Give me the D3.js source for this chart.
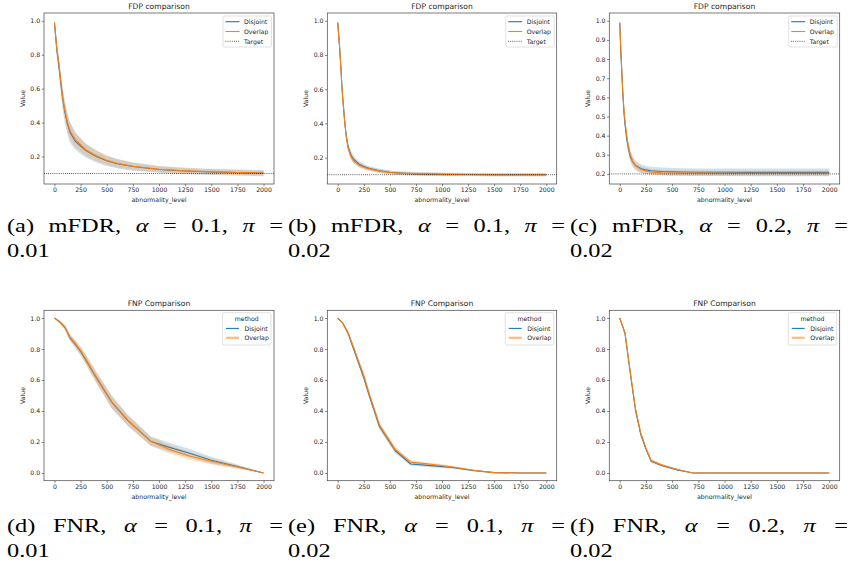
<!DOCTYPE html>
<html>
<head>
<meta charset="utf-8">
<script src="https://cdn.jsdelivr.net/npm/d3@7"></script>
<style>
    body { margin: 0; background: #fff; }
    svg { display: block; }
</style>
</head>
<body>
<div id="graphic"></div>
<script>
// Dati
var xsTop = [0, 10, 20, 30, 40, 50, 65, 80, 100, 125, 150, 200, 250, 300, 400, 500, 600, 750, 1000, 1250, 1500, 1750, 2000];
var xsBottom = [0, 50, 100, 150, 200, 250, 300, 400, 550, 700, 920, 1100, 1300, 1500, 1750, 2000];

var fdpA_disjoint = [0.99, 0.92, 0.85, 0.79, 0.75, 0.69, 0.61, 0.535, 0.46, 0.39, 0.34, 0.29, 0.262, 0.235, 0.2, 0.175, 0.158, 0.141, 0.124, 0.115, 0.109, 0.105, 0.102];
var fdpA_overlap = [0.99, 0.92, 0.85, 0.80, 0.76, 0.70, 0.62, 0.545, 0.47, 0.40, 0.35, 0.30, 0.27, 0.24, 0.205, 0.178, 0.16, 0.143, 0.125, 0.116, 0.11, 0.106, 0.103];
var bandA_disjoint = [0.01, 0.03, 0.04, 0.045, 0.05, 0.055, 0.06, 0.065, 0.065, 0.065, 0.06, 0.05, 0.045, 0.04, 0.035, 0.03, 0.027, 0.024, 0.02, 0.019, 0.018, 0.018, 0.018];
var bandA_overlap = [0.01, 0.03, 0.035, 0.04, 0.04, 0.045, 0.05, 0.05, 0.05, 0.05, 0.05, 0.045, 0.04, 0.037, 0.032, 0.028, 0.025, 0.022, 0.018, 0.017, 0.016, 0.015, 0.015];

var fdpB_disjoint = [0.99, 0.91, 0.83, 0.73, 0.62, 0.535, 0.425, 0.335, 0.262, 0.218, 0.192, 0.164, 0.148, 0.137, 0.123, 0.114, 0.109, 0.105, 0.102, 0.101, 0.100, 0.100, 0.100];
var fdpB_overlap = [0.99, 0.91, 0.83, 0.73, 0.615, 0.53, 0.42, 0.33, 0.255, 0.208, 0.183, 0.157, 0.143, 0.134, 0.121, 0.113, 0.109, 0.105, 0.102, 0.101, 0.100, 0.100, 0.100];
var bandB_disjoint = [0.01, 0.02, 0.025, 0.025, 0.025, 0.025, 0.025, 0.025, 0.025, 0.025, 0.022, 0.018, 0.015, 0.013, 0.012, 0.011, 0.01, 0.01, 0.009, 0.009, 0.009, 0.009, 0.009];
var bandB_overlap = [0.01, 0.02, 0.025, 0.025, 0.025, 0.025, 0.025, 0.025, 0.022, 0.02, 0.018, 0.015, 0.013, 0.012, 0.011, 0.01, 0.01, 0.009, 0.009, 0.009, 0.009, 0.009, 0.009];

var fdpC_disjoint = [0.99, 0.84, 0.72, 0.61, 0.52, 0.46, 0.39, 0.34, 0.29, 0.262, 0.244, 0.228, 0.221, 0.217, 0.213, 0.211, 0.21, 0.209, 0.209, 0.208, 0.208, 0.208, 0.208];
var fdpC_overlap = [0.99, 0.85, 0.73, 0.62, 0.535, 0.475, 0.405, 0.35, 0.3, 0.265, 0.243, 0.224, 0.215, 0.21, 0.206, 0.205, 0.204, 0.204, 0.203, 0.203, 0.203, 0.203, 0.203];
var bandC_disjoint = [0.01, 0.03, 0.03, 0.03, 0.03, 0.03, 0.03, 0.03, 0.028, 0.026, 0.025, 0.022, 0.02, 0.02, 0.02, 0.02, 0.02, 0.02, 0.02, 0.02, 0.02, 0.02, 0.02];
var bandC_overlap = [0.01, 0.03, 0.03, 0.03, 0.03, 0.03, 0.028, 0.026, 0.024, 0.022, 0.02, 0.018, 0.016, 0.015, 0.014, 0.014, 0.014, 0.014, 0.014, 0.014, 0.014, 0.014, 0.014];

var fnpD_disjoint = [1.0, 0.975, 0.94, 0.87, 0.83, 0.785, 0.73, 0.615, 0.455, 0.34, 0.205, 0.165, 0.125, 0.082, 0.042, 0.0];
var fnpD_overlap = [1.0, 0.975, 0.94, 0.875, 0.835, 0.79, 0.735, 0.62, 0.458, 0.342, 0.205, 0.152, 0.108, 0.075, 0.038, 0.0];
var bandD_disjoint = [0, 0.01, 0.015, 0.02, 0.025, 0.025, 0.03, 0.035, 0.04, 0.035, 0.03, 0.03, 0.028, 0.022, 0.012, 0];
var bandD_overlap = [0, 0.01, 0.015, 0.02, 0.025, 0.028, 0.032, 0.036, 0.04, 0.035, 0.03, 0.028, 0.025, 0.02, 0.012, 0];

var fnpE_disjoint = [1.0, 0.965, 0.9, 0.805, 0.71, 0.615, 0.505, 0.3, 0.145, 0.058, 0.046, 0.035, 0.016, 0.002, 0, 0];
var fnpE_overlap = [1.0, 0.965, 0.905, 0.815, 0.72, 0.63, 0.515, 0.31, 0.152, 0.07, 0.055, 0.038, 0.017, 0.002, 0, 0];
var bandE_disjoint = [0, 0.008, 0.012, 0.015, 0.018, 0.02, 0.02, 0.02, 0.018, 0.012, 0.01, 0.008, 0.006, 0.002, 0, 0];
var bandE_overlap = [0, 0.008, 0.012, 0.015, 0.018, 0.02, 0.02, 0.02, 0.018, 0.012, 0.01, 0.008, 0.006, 0.002, 0, 0];

var fnpF_disjoint = [1.0, 0.9, 0.645, 0.405, 0.25, 0.155, 0.075, 0.048, 0.02, 0.0, 0, 0, 0, 0, 0, 0];
var fnpF_overlap = [1.0, 0.905, 0.655, 0.415, 0.258, 0.16, 0.08, 0.052, 0.022, 0.0, 0, 0, 0, 0, 0, 0];
var bandF_disjoint = [0, 0.01, 0.015, 0.015, 0.015, 0.012, 0.01, 0.008, 0.005, 0, 0, 0, 0, 0, 0, 0];
var bandF_overlap = [0, 0.01, 0.015, 0.015, 0.015, 0.012, 0.01, 0.008, 0.005, 0, 0, 0, 0, 0, 0, 0];

// Tick e testi
var xTicks = [0, 250, 500, 750, 1000, 1250, 1500, 1750, 2000];
var yTicksFdp = [0.2, 0.4, 0.6, 0.8, 1.0];
var yTicksFdpC = [0.2, 0.3, 0.4, 0.5, 0.6, 0.7, 0.8, 0.9, 1.0];
var yTicksFnp = [0.0, 0.2, 0.4, 0.6, 0.8, 1.0];
var methods = ["Disjoint", "Overlap"];
var targets = [0.1, 0.1, 0.2];
var captionLine1 = ["(a) mFDR, α = 0.1, π =", "(b) mFDR, α = 0.1, π =", "(c) mFDR, α = 0.2, π =",
                    "(d) FNR, α = 0.1, π =", "(e) FNR, α = 0.1, π =", "(f) FNR, α = 0.2, π ="];
var captionLine2 = ["0.01", "0.02", "0.02", "0.01", "0.02", "0.02"];

var colors = {Disjoint: "#1f77b4", Overlap: "#ff7f0e"};
var font = '"DejaVu Sans", sans-serif';
var serif = '"Liberation Serif", serif';
var textColor = '#262626';

var svg = d3.select('#graphic')
    .append('svg')
    .attr('width', 851)
    .attr('height', 577);

// posizione dei riquadri
var cols = [{left: 44, right: 274}, {left: 327.3, right: 556.7}, {left: 609.3, right: 839.7}];
var rows = [{top: 13, bottom: 184}, {top: 310.3, bottom: 480.7}];

var panels = [
    {col: 0, row: 0, xs: xsTop, d: fdpA_disjoint, o: fdpA_overlap, bd: bandA_disjoint, bo: bandA_overlap, yTicks: yTicksFdp, target: targets[0]},
    {col: 1, row: 0, xs: xsTop, d: fdpB_disjoint, o: fdpB_overlap, bd: bandB_disjoint, bo: bandB_overlap, yTicks: yTicksFdp, target: targets[1]},
    {col: 2, row: 0, xs: xsTop, d: fdpC_disjoint, o: fdpC_overlap, bd: bandC_disjoint, bo: bandC_overlap, yTicks: yTicksFdpC, target: targets[2]},
    {col: 0, row: 1, xs: xsBottom, d: fnpD_disjoint, o: fnpD_overlap, bd: bandD_disjoint, bo: bandD_overlap, yTicks: yTicksFnp, target: null},
    {col: 1, row: 1, xs: xsBottom, d: fnpE_disjoint, o: fnpE_overlap, bd: bandE_disjoint, bo: bandE_overlap, yTicks: yTicksFnp, target: null},
    {col: 2, row: 1, xs: xsBottom, d: fnpF_disjoint, o: fnpF_overlap, bd: bandF_disjoint, bo: bandF_overlap, yTicks: yTicksFnp, target: null}
];

// fattore di allargamento orizzontale delle didascalie
var capStretch = 1.25;

panels.forEach(function (p, i) {
    var c = cols[p.col], r = rows[p.row];
    var w = c.right - c.left, h = r.bottom - r.top;
    var g = svg.append('g').attr('transform', 'translate(' + c.left + ',' + r.top + ')');

    var series = [
        {name: "Disjoint", vals: p.d, band: p.bd},
        {name: "Overlap", vals: p.o, band: p.bo}
    ];
    series.forEach(function (s) {
        s.points = p.xs.map(function (x, k) {
            return {x: x, y: s.vals[k], lo: s.vals[k] - s.band[k], hi: s.vals[k] + s.band[k]};
        });
    });

    // margini 5% come matplotlib
    var xMin = d3.min(p.xs), xMax = d3.max(p.xs);
    var xPad = (xMax - xMin) * 0.05;
    var yLo = d3.min(series, function (s) { return d3.min(s.points, function (d) { return d.lo; }); });
    var yHi = d3.max(series, function (s) { return d3.max(s.points, function (d) { return d.hi; }); });
    if (p.target !== null) { yLo = Math.min(yLo, p.target); }
    var yPad = (yHi - yLo) * 0.05;

    var xScale = d3.scaleLinear().domain([xMin - xPad, xMax + xPad]).range([0, w]);
    var yScale = d3.scaleLinear().domain([yLo - yPad, yHi + yPad]).range([h, 0]);

    var area = d3.area()
        .x(function (d) { return xScale(d.x); })
        .y0(function (d) { return yScale(d.lo); })
        .y1(function (d) { return yScale(d.hi); });
    var line = d3.line()
        .x(function (d) { return xScale(d.x); })
        .y(function (d) { return yScale(d.y); });

    series.forEach(function (s) {
        g.append('path')
            .attr('d', area(s.points))
            .attr('fill', colors[s.name])
            .attr('fill-opacity', 0.22)
            .attr('stroke', 'none');
        g.append('path')
            .attr('d', line(s.points))
            .attr('fill', 'none')
            .attr('stroke', colors[s.name])
            .attr('stroke-width', 1.1)
            .attr('stroke-linejoin', 'round');
    });

    // linea target (axhline)
    if (p.target !== null) {
        g.append('line')
            .attr('x1', 0).attr('x2', w)
            .attr('y1', yScale(p.target)).attr('y2', yScale(p.target))
            .attr('stroke', '#000')
            .attr('stroke-width', 0.8)
            .attr('stroke-dasharray', '0.8,1.3');
    }

    // Assi
    var xAxis = d3.axisBottom(xScale).tickValues(xTicks).tickSize(2.2).tickPadding(1.6)
        .tickFormat(d3.format('d'));
    var yAxis = d3.axisLeft(yScale).tickValues(p.yTicks).tickSize(2.2).tickPadding(1.6)
        .tickFormat(d3.format('.1f'));

    var gx = g.append('g').attr('transform', 'translate(0,' + h + ')').call(xAxis);
    var gy = g.append('g').call(yAxis);
    [gx, gy].forEach(function (ax) {
        ax.select('.domain').remove();
        ax.selectAll('.tick line').attr('stroke', '#333').attr('stroke-width', 0.6);
        ax.selectAll('.tick text')
            .attr('font-family', font)
            .attr('font-size', '6.2px')
            .attr('fill', textColor);
    });

    // cornice
    g.append('rect')
        .attr('width', w).attr('height', h)
        .attr('fill', 'none')
        .attr('stroke', '#444')
        .attr('stroke-width', 0.7);

    // titolo e label
    g.append('text')
        .attr('x', w / 2).attr('y', -4.5)
        .attr('text-anchor', 'middle')
        .attr('font-family', font).attr('font-size', '7.6px').attr('fill', textColor)
        .text(p.row === 0 ? 'FDP comparison' : 'FNP Comparison');
    g.append('text')
        .attr('x', w / 2).attr('y', h + 18)
        .attr('text-anchor', 'middle')
        .attr('font-family', font).attr('font-size', '6.2px').attr('fill', textColor)
        .text('abnormality_level');
    var yLabX = p.col === 0 ? -19.3 : -19;
    g.append('text')
        .attr('transform', 'translate(' + yLabX + ',' + (h / 2) + ') rotate(-90)')
        .attr('text-anchor', 'middle')
        .attr('font-family', font).attr('font-size', '6.2px').attr('fill', textColor)
        .text('Value');

    // legenda
    var lw = 48.5;
    if (p.row === 0) {
        var lg = g.append('g').attr('transform', 'translate(' + (w - lw - 2.5) + ',3)');
        lg.append('rect')
            .attr('width', lw).attr('height', 31)
            .attr('rx', 1.5)
            .attr('fill', '#fff').attr('fill-opacity', 0.8)
            .attr('stroke', '#ccc').attr('stroke-width', 0.6);
        var entries = [
            {label: 'Disjoint', color: colors.Disjoint, dash: null},
            {label: 'Overlap', color: colors.Overlap, dash: null},
            {label: 'Target', color: '#000', dash: '0.8,1.3'}
        ];
        entries.forEach(function (e, k) {
            var yy = 5.7 + k * 9.8;
            lg.append('line')
                .attr('x1', 2.5).attr('x2', 16.5).attr('y1', yy).attr('y2', yy)
                .attr('stroke', e.color)
                .attr('stroke-width', e.dash ? 0.8 : 1.1)
                .attr('stroke-dasharray', e.dash);
            lg.append('text')
                .attr('x', 21).attr('y', yy + 2.2)
                .attr('font-family', font).attr('font-size', '6.2px').attr('fill', textColor)
                .text(e.label);
        });
    } else {
        var lg2 = g.append('g').attr('transform', 'translate(' + (w - lw - 3) + ',2.4)');
        lg2.append('rect')
            .attr('width', lw).attr('height', 32.3)
            .attr('rx', 1.5)
            .attr('fill', '#fff').attr('fill-opacity', 0.8)
            .attr('stroke', '#ccc').attr('stroke-width', 0.6);
        lg2.append('text')
            .attr('x', lw / 2).attr('y', 8.2)
            .attr('text-anchor', 'middle')
            .attr('font-family', font).attr('font-size', '6.2px').attr('fill', textColor)
            .text('method');
        methods.forEach(function (m, k) {
            var yy = 15.7 + k * 9.4;
            lg2.append('line')
                .attr('x1', 3.5).attr('x2', 16.5).attr('y1', yy).attr('y2', yy)
                .attr('stroke', colors[m])
                .attr('stroke-width', m === 'Overlap' ? 2.2 : 1.1)
                .attr('stroke-opacity', m === 'Overlap' ? 0.55 : 1);
            lg2.append('text')
                .attr('x', 22).attr('y', yy + 2.2)
                .attr('font-family', font).attr('font-size', '6.2px').attr('fill', textColor)
                .text(m);
        });
    }

    // didascalia (stile LaTeX, giustificata parola per parola)
    var capX = [7, 288, 570][p.col];
    var capY = p.row === 0 ? [231.7, 256.7] : [531.7, 556.7];
    var capEnd = [283, 565, 848][p.col];
    var cap = svg.append('g')
        .attr('transform', 'translate(' + capX + ',0) scale(' + capStretch + ',1)');
    var words = captionLine1[i].split(' ');
    var wNodes = words.map(function (word) {
        return cap.append('text')
            .attr('y', capY[0])
            .attr('font-family', serif)
            .attr('font-size', '19.5px')
            .attr('font-style', (word === 'α' || word === 'π') ? 'italic' : null)
            .attr('fill', '#000')
            .text(word);
    });
    var widths = wNodes.map(function (t) { return t.node().getComputedTextLength(); });
    var avail = (capEnd - capX) / capStretch;
    var gap = (avail - d3.sum(widths)) / (words.length - 1);
    var cx = 0;
    wNodes.forEach(function (t, k) {
        t.attr('x', cx);
        cx += widths[k] + gap;
    });
    cap.append('text')
        .attr('x', 0).attr('y', capY[1])
        .attr('font-family', serif)
        .attr('font-size', '19.5px').attr('fill', '#000')
        .text(captionLine2[i]);
});
</script>
</body>
</html>
